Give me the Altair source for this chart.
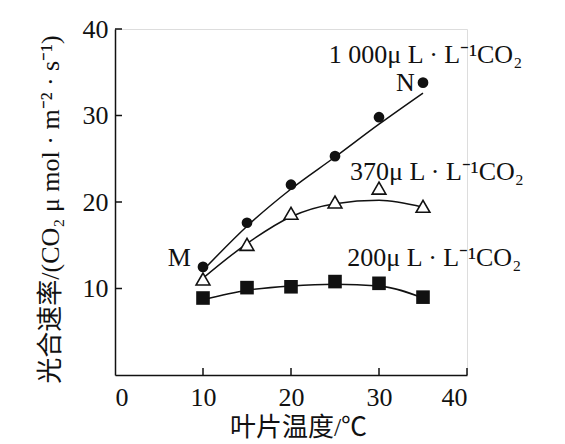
import altair as alt
import pandas as pd

# measured points
temps = [10, 15, 20, 25, 30, 35]
rate_1000 = [12.5, 17.6, 22.0, 25.3, 29.8, 33.8]
rate_370 = [11.1, 15.1, 18.7, 20.0, 21.6, 19.5]
rate_200 = [8.9, 10.1, 10.2, 10.8, 10.6, 9.0]

# fitted curves
fit_1000 = [12.1, 17.2, 21.5, 25.2, 29.0, 32.6]
fit_370 = [11.2, 15.2, 18.3, 19.8, 20.2, 19.4]
fit_200 = [8.7, 9.8, 10.3, 10.5, 10.3, 8.9]

# annotation labels (data coordinates)
ann_text = ["1 000μ L · L⁻¹CO₂", "370μ L · L⁻¹CO₂", "200μ L · L⁻¹CO₂"]
ann_x = [24.3, 26.7, 26.4]
ann_y = [37.0, 23.5, 13.5]
letter_text = ["M", "N"]
letter_x = [7.3, 33.0]
letter_y = [13.5, 33.8]

x_ticks = [0, 10, 20, 30, 40]
y_ticks = [10, 20, 30, 40]

W, H = 352, 346
SERIF = "Liberation Serif, Noto Sans CJK SC"
FS = 26

xs = alt.Scale(domain=[0, 40], nice=False)
ys = alt.Scale(domain=[0, 40], nice=False)

xaxis = alt.Axis(values=x_ticks, tickSize=0, labelFont=SERIF, labelFontSize=FS,
                 labelColor="#111", labelPadding=9, labelBaseline="top",
                 domainColor="#111", domainWidth=1.5, grid=False,
                 title="叶片温度/℃", titleFont=SERIF, titleFontSize=FS,
                 titleFontWeight="normal", titleColor="#111",
                 titleX=183, titleY=52, titleBaseline="middle", titleAlign="center")
yaxis = alt.Axis(values=y_ticks, tickSize=0, labelFont=SERIF, labelFontSize=FS,
                 labelColor="#111", labelPadding=7, labelBaseline="middle",
                 domainColor="#111", domainWidth=1.5, grid=False,
                 title="光合速率/(CO₂ μ mol · m⁻² · s⁻¹)", titleFont=SERIF,
                 titleFontSize=FS, titleFontWeight="normal", titleColor="#111",
                 titleAngle=270, titleX=-65, titleY=180,
                 titleBaseline="middle", titleAlign="center")

pts = pd.DataFrame({"t": temps, "r1000": rate_1000, "r370": rate_370, "r200": rate_200,
                    "f1000": fit_1000, "f370": fit_370, "f200": fit_200})

base = alt.Chart(pts)

axes_layer = base.mark_point(opacity=0).encode(
    x=alt.X("t:Q", scale=xs, axis=xaxis),
    y=alt.Y("r1000:Q", scale=ys, axis=yaxis),
)

lines = []
for f in ["f1000", "f370", "f200"]:
    lines.append(base.mark_line(color="#111", strokeWidth=1.5, interpolate="monotone").encode(
        x=alt.X("t:Q", scale=xs), y=alt.Y(f"{f}:Q", scale=ys)))

circles = base.mark_point(shape="circle", filled=True, color="#111", size=115, opacity=1).encode(
    x=alt.X("t:Q", scale=xs), y=alt.Y("r1000:Q", scale=ys))
tris = base.mark_point(shape="triangle-up", filled=False, fill="white", color="#111",
                       strokeWidth=1.6, size=190, opacity=1, fillOpacity=1).encode(
    x=alt.X("t:Q", scale=xs), y=alt.Y("r370:Q", scale=ys))
squares = base.mark_point(shape="square", filled=True, color="#111", size=185, opacity=1).encode(
    x=alt.X("t:Q", scale=xs), y=alt.Y("r200:Q", scale=ys))

xt = pd.DataFrame({"v": x_ticks[1:]})
yt = pd.DataFrame({"v": y_ticks})
xtick_rules = alt.Chart(xt).mark_rule(color="#111", strokeWidth=1.5).encode(
    x=alt.X("v:Q", scale=xs), y=alt.value(H), y2=alt.value(H - 7))
ytick_rules = alt.Chart(yt).mark_rule(color="#111", strokeWidth=1.5).encode(
    y=alt.Y("v:Q", scale=ys), x=alt.value(0), x2=alt.value(7))

ann = pd.DataFrame({"txt": ann_text, "x": ann_x, "y": ann_y})
ann_layer = alt.Chart(ann).mark_text(font=SERIF, fontSize=FS, align="left",
                                     baseline="middle", color="#111").encode(
    x=alt.X("x:Q", scale=xs), y=alt.Y("y:Q", scale=ys), text="txt:N")
let = pd.DataFrame({"txt": letter_text, "x": letter_x, "y": letter_y})
let_layer = alt.Chart(let).mark_text(font=SERIF, fontSize=FS, align="center",
                                     baseline="middle", color="#111").encode(
    x=alt.X("x:Q", scale=xs), y=alt.Y("y:Q", scale=ys), text="txt:N")

chart = alt.layer(axes_layer, *lines, tris, circles, squares, xtick_rules, ytick_rules,
                  ann_layer, let_layer).properties(
    width=W, height=H,
    autosize=alt.AutoSizeParams(type="none"),
    padding={"left": 107, "top": 21, "right": 70, "bottom": 66},
).configure_view(stroke=None).configure(background="white")

chart.save("out.html", embed_options={"renderer": "svg", "actions": False})
